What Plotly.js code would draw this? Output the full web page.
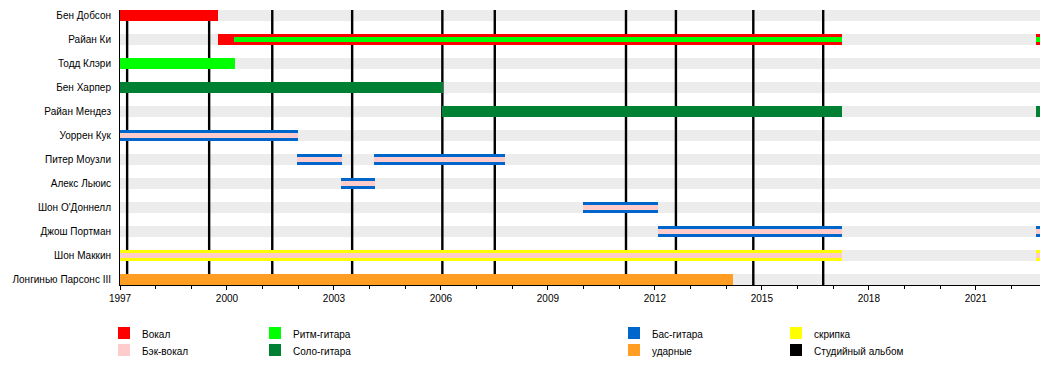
<!DOCTYPE html>
<html>
<head>
<meta charset="utf-8">
<script src="https://cdn.plot.ly/plotly-3.0.1.min.js"></script>
<style>
  html, body { margin: 0; padding: 0; background: #fff; }
  #chart { width: 1050px; height: 365px; }
</style>
</head>
<body>
<div id="chart"></div>
<script>
// ---- data ----
const members = ["Бен Добсон", "Райан Ки", "Тодд Клэри", "Бен Харпер", "Райан Мендез",
  "Уоррен Кук", "Питер Моузли", "Алекс Льюис", "Шон О'Доннелл", "Джош Портман",
  "Шон Маккин", "Лонгинью Парсонс III"];

const roles = ["Вокал", "Бэк-вокал", "Ритм-гитара", "Соло-гитара", "Бас-гитара", "ударные", "скрипка"];
const albumLabel = "Студийный альбом";

// studio album release dates (decimal years)
const albums = [1997.2, 1999.5, 2001.27, 2003.51, 2006.04, 2007.51, 2011.19, 2012.59, 2014.76, 2016.72];

const timelineStart = 1997;
const timelineEnd = 2022.8;

// [member, role, start, end] - main role of each stint
const primaryStints = [
  ["Бен Добсон", "Вокал", 1997, 1999.74],
  ["Райан Ки", "Вокал", 1999.74, 2017.24],
  ["Райан Ки", "Вокал", 2022.68, 2022.8],
  ["Тодд Клэри", "Ритм-гитара", 1997, 2000.22],
  ["Бен Харпер", "Соло-гитара", 1997, 2006.06],
  ["Райан Мендез", "Соло-гитара", 2006.03, 2017.24],
  ["Райан Мендез", "Соло-гитара", 2022.68, 2022.8],
  ["Уоррен Кук", "Бас-гитара", 1997, 2001.99],
  ["Питер Моузли", "Бас-гитара", 2001.96, 2003.22],
  ["Питер Моузли", "Бас-гитара", 2004.12, 2007.79],
  ["Алекс Льюис", "Бас-гитара", 2003.2, 2004.15],
  ["Шон О'Доннелл", "Бас-гитара", 2009.98, 2012.08],
  ["Джош Портман", "Бас-гитара", 2012.08, 2017.24],
  ["Джош Портман", "Бас-гитара", 2022.68, 2022.8],
  ["Шон Маккин", "скрипка", 1997, 2017.24],
  ["Шон Маккин", "скрипка", 2022.68, 2022.8],
  ["Лонгинью Парсонс III", "ударные", 1997, 2014.19]
];

// [member, role, start, end] - secondary role of each stint
const secondaryStints = [
  ["Райан Ки", "Ритм-гитара", 2000.2, 2017.24],
  ["Райан Ки", "Ритм-гитара", 2022.68, 2022.8],
  ["Уоррен Кук", "Бэк-вокал", 1997, 2001.99],
  ["Питер Моузли", "Бэк-вокал", 2001.96, 2003.22],
  ["Питер Моузли", "Бэк-вокал", 2004.12, 2007.79],
  ["Алекс Льюис", "Бэк-вокал", 2003.2, 2004.15],
  ["Шон О'Доннелл", "Бэк-вокал", 2009.98, 2012.08],
  ["Джош Портман", "Бэк-вокал", 2012.08, 2017.24],
  ["Джош Портман", "Бэк-вокал", 2022.68, 2022.8],
  ["Шон Маккин", "Бэк-вокал", 1997, 2017.24],
  ["Шон Маккин", "Бэк-вокал", 2022.68, 2022.8]
];

// ---- styles ----
const roleColors = {
  "Вокал": "#ff0000",
  "Бэк-вокал": "#ffcccc",
  "Ритм-гитара": "#00ff00",
  "Соло-гитара": "#008033",
  "Бас-гитара": "#0066cc",
  "ударные": "#ff9e22",
  "скрипка": "#ffff00"
};
const albumColor = "#000000";
const FONT = "'Liberation Sans', Arial, Helvetica, sans-serif";
const PX_PER_ROW = 24;
const FULL_W = 11 / PX_PER_ROW;
const THIN_W = 5 / PX_PER_ROW;

const rowOf = name => members.length - 1 - members.indexOf(name);

const traces = [];
function addTraces(stints, width) {
  roles.forEach(role => {
    const s = stints.filter(d => d[1] === role);
    if (!s.length) return;
    traces.push({
      type: "bar",
      orientation: "h",
      name: role,
      y: s.map(d => rowOf(d[0])),
      base: s.map(d => d[2]),
      x: s.map(d => d[3] - d[2]),
      width: s.map(() => width),
      marker: { color: roleColors[role], line: { width: 0 } },
      hoverinfo: "skip",
      showlegend: false
    });
  });
}
addTraces(primaryStints, FULL_W);
addTraces(secondaryStints, THIN_W);

// plot area in pixels
const M = { l: 120, r: 10, t: 10, b: 80 };
const W = 1050, H = 365;
const pw = W - M.l - M.r, ph = H - M.t - M.b;
const px2paperX = px => (px - M.l) / pw;
const px2paperY = py => (H - M.b - py) / ph;

const yBottom = -5.5 / PX_PER_ROW;
const yTop = yBottom + ph / PX_PER_ROW;

const shapes = [];
// grey row bands (below)
members.forEach(m => {
  shapes.push({
    type: "rect", xref: "x", yref: "y", layer: "below",
    x0: timelineStart, x1: timelineEnd,
    y0: rowOf(m) - FULL_W / 2, y1: rowOf(m) + FULL_W / 2,
    fillcolor: "#ececec", line: { width: 0 }
  });
});
// album lines
albums.forEach(a => {
  shapes.push({
    type: "line", xref: "x", yref: "y", layer: "below",
    x0: a, x1: a, y0: yBottom, y1: yTop,
    line: { color: albumColor, width: 2.4 }
  });
});

// legend (4 columns x 2 rows)
const legendItems = [...roles, albumLabel];
const legendColors = { ...roleColors, [albumLabel]: albumColor };
const legendOrder = [["Вокал", "Бэк-вокал"], ["Ритм-гитара", "Соло-гитара"], ["Бас-гитара", "ударные"], ["скрипка", albumLabel]];
const colX = [118, 269, 628, 790];
const rowY = [333, 350];
const annotations = [];
legendOrder.forEach((col, ci) => {
  col.forEach((item, ri) => {
    if (!legendItems.includes(item)) return;
    shapes.push({
      type: "rect", xref: "paper", yref: "paper",
      x0: px2paperX(colX[ci]), x1: px2paperX(colX[ci] + 12),
      y0: px2paperY(rowY[ri] - 6), y1: px2paperY(rowY[ri] + 6),
      fillcolor: legendColors[item], line: { width: 0 }
    });
    annotations.push({
      xref: "paper", yref: "paper",
      x: px2paperX(colX[ci] + 22), y: px2paperY(rowY[ri] + 1),
      xanchor: "left", yanchor: "middle", showarrow: false,
      text: item, font: { family: FONT, size: 10, color: "#000" }
    });
  });
});

const layout = {
  width: W, height: H,
  margin: M,
  paper_bgcolor: "#fff", plot_bgcolor: "rgba(0,0,0,0)",
  barmode: "overlay",
  bargap: 0,
  showlegend: false,
  font: { family: FONT, size: 10, color: "#000" },
  xaxis: {
    range: [timelineStart, timelineEnd],
    tick0: 1997, dtick: 3,
    ticks: "outside", ticklen: 4, tickwidth: 1, tickcolor: "#000",
    minor: { dtick: 1, ticks: "outside", ticklen: 3, tickcolor: "#000", showgrid: false },
    showgrid: false, zeroline: false,
    showline: true, linecolor: "#000", linewidth: 1,
    tickfont: { family: FONT, size: 10, color: "#000" },
    fixedrange: true
  },
  yaxis: {
    range: [yBottom, yTop],
    tickvals: members.map(rowOf),
    ticktext: members,
    ticks: "", showgrid: false, zeroline: false,
    showline: true, linecolor: "#000", linewidth: 1,
    ticklabelstandoff: 6,
    tickfont: { family: FONT, size: 10, color: "#000" },
    fixedrange: true
  },
  shapes: shapes,
  annotations: annotations
};

Plotly.newPlot("chart", traces, layout, { displayModeBar: false, staticPlot: true });
</script>
</body>
</html>
